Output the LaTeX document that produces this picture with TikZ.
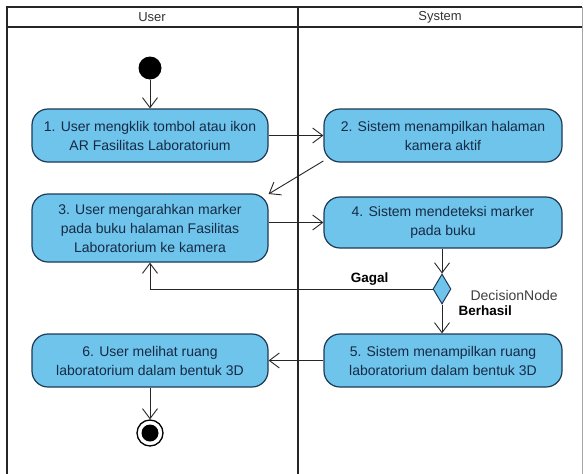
\documentclass[tikz,border=0pt]{standalone}
\usepackage{fontspec}
\setmainfont{Liberation Sans}
\usetikzlibrary{arrows.meta,shapes.geometric}
\definecolor{actfill}{HTML}{6EC4EB}
\definecolor{actdraw}{HTML}{1E3A56}
\definecolor{acttext}{HTML}{172A45}
\tikzset{
  actbox/.style={draw=actdraw, line width=1.2pt, fill=actfill, rounded corners=16pt,
    align=center, text=acttext, inner sep=0pt, font=\fontsize{14}{19}\selectfont},
  flow/.style={draw=black!85, line width=0.9pt, -{Straight Barb[length=10pt,width=15pt,line width=0.9pt]}},
  frameline/.style={draw=black!85, line width=2pt},
  lanetitle/.style={font=\fontsize{13}{15}\selectfont, text=black!80},
  guard/.style={font=\bfseries\fontsize{13.5}{15}\selectfont, text=black},
}
\begin{document}
\begin{tikzpicture}[x=1pt,y=-1pt]
\useasboundingbox (0,0) rectangle (584,474);
\fill[white] (0,0) rectangle (584,474);
% swimlane frame
\draw[frameline] (7,7) -- (582,7);
\draw[frameline] (7,27) -- (582,27);
\draw[frameline] (7,6) -- (7,474);
\draw[frameline] (298,6) -- (298,474);
\draw[draw=black!35, line width=1pt] (582,7) -- (582,474);
\node[lanetitle] (lu) at (152,17) {User};
\node[lanetitle] (ls) at (440,17) {System};
% nodes
\node[circle, fill=black, minimum size=23pt, inner sep=0pt] (start) at (150,68) {};
\node[actbox, minimum width=236pt, minimum height=53pt] (b1) at (150,135.5) {1. User mengklik tombol atau ikon\\AR Fasilitas Laboratorium};
\node[actbox, minimum width=238pt, minimum height=53pt] (b2) at (443,135.5) {2. Sistem menampilkan halaman\\kamera aktif};
\node[actbox, minimum width=236pt, minimum height=68pt] (b3) at (150,228) {3. User mengarahkan marker\\pada buku halaman Fasilitas\\Laboratorium ke kamera};
\node[actbox, minimum width=238pt, minimum height=51pt] (b4) at (443,222.5) {4. Sistem mendeteksi marker\\pada buku};
\node[diamond, draw=actdraw, line width=1pt, fill=actfill, minimum width=18pt, minimum height=30pt, inner sep=0pt] (dec) at (442,289) {};
\node[actbox, minimum width=238pt, minimum height=53pt] (b5) at (443,360.5) {5. Sistem menampilkan ruang\\laboratorium dalam bentuk 3D};
\node[actbox, minimum width=236pt, minimum height=53pt] (b6) at (150,360.5) {6. User melihat ruang\\laboratorium dalam bentuk 3D};
\node[circle, draw=black, line width=1.3pt, fill=white, minimum size=26pt, inner sep=0pt] (endo) at (150,433) {};
\node[circle, fill=black, minimum size=17pt, inner sep=0pt] (endi) at (endo.center) {};
% labels
\node[guard, anchor=east] (lg) at (392,279) {Gagal};
\node[font=\fontsize{14}{15}\selectfont, text=black!75, anchor=west] (ldn) at (467,295) {DecisionNode};
\node[guard, anchor=west] (lb) at (455,311) {Berhasil};
% connectors
\draw[flow] (start) -- (b1);
\draw[flow] (b1.east |- b2.west) -- (b2.west);
\draw[flow] (b2.192) -- (b3.16);
\draw[flow] (b3.east |- b4.west) -- (b4.west);
\draw[flow] (b4.south -| dec.north) -- (dec.north);
\draw[flow] (dec.west) -| (b3.south);
\draw[flow] (dec.south) -- (dec.south |- b5.north);
\draw[flow] (b5.west) -- (b6.east);
\draw[flow] (b6.south) -- (endo.north);
\end{tikzpicture}
\end{document}
